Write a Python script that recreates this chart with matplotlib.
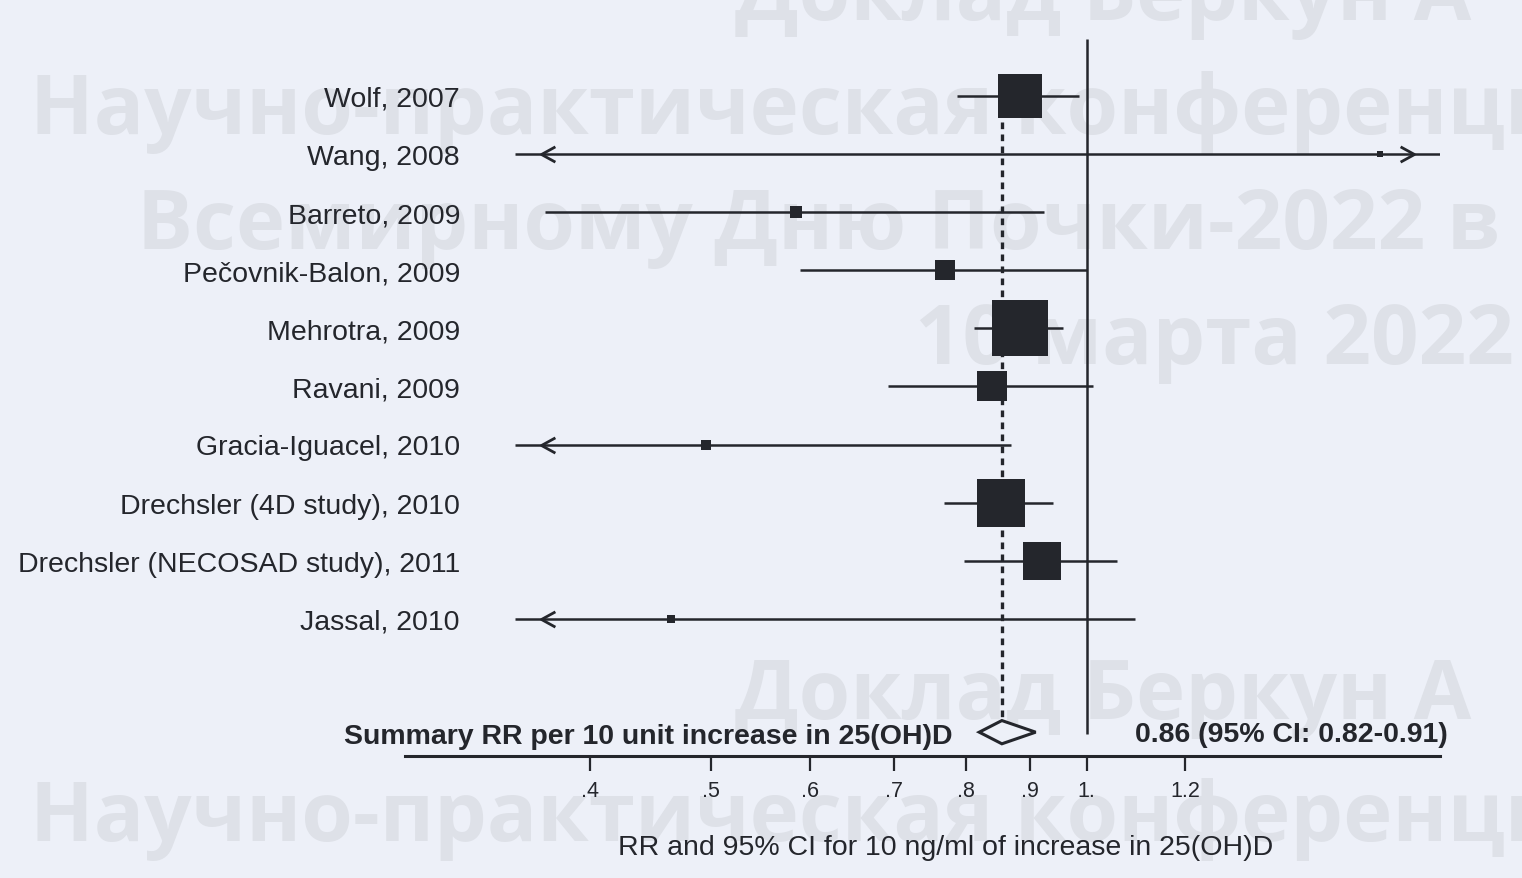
import matplotlib.pyplot as plt
import numpy as np
from matplotlib.path import Path
from matplotlib.patches import Polygon

# study estimates (RR per 10 ng/ml of 25(OH)D)
studies = [
    "Wolf, 2007",
    "Wang, 2008",
    "Barreto, 2009",
    "Pečovnik-Balon, 2009",
    "Mehrotra, 2009",
    "Ravani, 2009",
    "Gracia-Iguacel, 2010",
    "Drechsler (4D study), 2010",
    "Drechsler (NECOSAD study), 2011",
    "Jassal, 2010",
]
rr = [0.884, 1.72, 0.585, 0.770, 0.884, 0.839, 0.495, 0.853, 0.920, 0.464]
ci_low = [0.787, 0.20, 0.368, 0.589, 0.812, 0.693, 0.25, 0.768, 0.797, 0.22]
ci_high = [0.985, 9.0, 0.925, 1.0, 0.957, 1.011, 0.869, 0.939, 1.057, 1.093]
weights = [18.2, 0.3, 1.35, 3.76, 30.6, 8.46, 0.94, 21.7, 14.3, 0.6]

summary_rr = 0.855
summary_low = 0.82
summary_high = 0.91
summary_label = "Summary RR per 10 unit increase in 25(OH)D"
summary_text = "0.86 (95% CI: 0.82-0.91)"

x_ticks = [0.4, 0.5, 0.6, 0.7, 0.8, 0.9, 1.0, 1.2]
x_tick_labels = [".4", ".5", ".6", ".7", ".8", ".9", "1.", "1.2"]
x_label = "RR and 95% CI for 10 ng/ml of increase in 25(OH)D"

watermark = [
    ("Доклад Беркун А", 735, 20),
    ("Научно-практическая конференция", 30, 134),
    ("Всемирному Дню Почки-2022 в С", 137, 249),
    ("10 марта 2022", 915, 364),
    ("Доклад Беркун А", 735, 719),
    ("Научно-практическая конференция", 30, 841),
]

BG = "#edf0f8"
INK = "#24262c"
WM = "#dee1e8"
W, H = 1522, 879

plt.rcParams["font.family"] = ["Liberation Sans", "DejaVu Sans"]

fig = plt.figure(figsize=(W / 100, H / 100), dpi=100, facecolor=BG)
for text, px, py in watermark:
    fig.text(px / W, 1 - py / H, text, fontsize=60, fontweight="bold",
             family=["Open Sans", "DejaVu Sans"], color=WM, va="baseline",
             ha="left", zorder=-5)

ax = fig.add_axes([405 / W, 122 / H, 1035 / W, 717 / H])
ax.set_facecolor("none")
ax.set_xscale("log")
x_min, x_max = 0.284, 1.92
clip_lo, clip_hi = 0.348, 1.92
arrow_lo, arrow_hi = 0.365, 1.83
ax.set_xlim(x_min, x_max)
ax.set_ylim(12.36, 0.02)

rows = np.arange(1, len(studies) + 1)
summary_row = 11.95
label_x = (460 - 405) / 1035

left_chev = Path([(1, 0.55), (0, 0), (1, -0.55)],
                 [Path.MOVETO, Path.LINETO, Path.LINETO])
right_chev = Path([(-1, 0.55), (0, 0), (-1, -0.55)],
                  [Path.MOVETO, Path.LINETO, Path.LINETO])

# reference lines
ax.vlines(1.0, 0.02, summary_row + 0.03, color=INK, lw=1.8, zorder=2)
ax.vlines(summary_rr, 0.62, summary_row - 0.2, color=INK, lw=2.4,
          linestyles=(0, (2.0, 1.6)), zorder=2)

for i, y in enumerate(rows):
    lo = max(ci_low[i], clip_lo)
    hi = min(ci_high[i], clip_hi)
    ax.plot([lo, hi], [y, y], color=INK, lw=1.8, solid_capstyle="butt", zorder=3)
    if ci_low[i] < clip_lo:
        ax.plot(arrow_lo, y, marker=left_chev, ms=20, mec=INK, mew=2,
                mfc="none", zorder=3)
    if ci_high[i] > clip_hi:
        ax.plot(arrow_hi, y, marker=right_chev, ms=20, mec=INK, mew=2,
                mfc="none", zorder=3)
    side = 7.4 * np.sqrt(weights[i])
    ax.plot(rr[i], y, marker="s", ms=side, color=INK, mew=0, zorder=4)
    ax.text(label_x, y + 0.05, studies[i],
            transform=ax.get_yaxis_transform(), ha="right", va="center",
            fontsize=20.5, color=INK)

diamond = Polygon(
    [(summary_low, summary_row), (summary_rr, summary_row - 0.2),
     (summary_high, summary_row), (summary_rr, summary_row + 0.2)],
    closed=True, facecolor=BG, edgecolor=INK, lw=2.2, zorder=4)
ax.add_patch(diamond)
ax.text((952 - 405) / 1035, summary_row + 0.07, summary_label,
        transform=ax.get_yaxis_transform(), ha="right", va="center",
        fontsize=20.5, fontweight="bold", color=INK)
ax.text((1448 - 405) / 1035, summary_row + 0.03, summary_text,
        transform=ax.get_yaxis_transform(), ha="right", va="center",
        fontsize=20.5, fontweight="bold", color=INK)

for side in ["top", "left", "right"]:
    ax.spines[side].set_visible(False)
ax.spines["bottom"].set_linewidth(2.2)
ax.spines["bottom"].set_color(INK)
ax.set_yticks([])
ax.set_xticks(x_ticks)
ax.set_xticklabels(x_tick_labels)
ax.minorticks_off()
ax.tick_params(axis="x", direction="out", length=11, width=1.6, color=INK,
               labelsize=15.5, labelcolor=INK, pad=6)

ax.text((946 - 405) / 1035, -(848 - 757) / 717, x_label,
        transform=ax.transAxes, ha="center", va="center", fontsize=20.5,
        color=INK)

fig.savefig("out.png", dpi=100, facecolor=BG)
